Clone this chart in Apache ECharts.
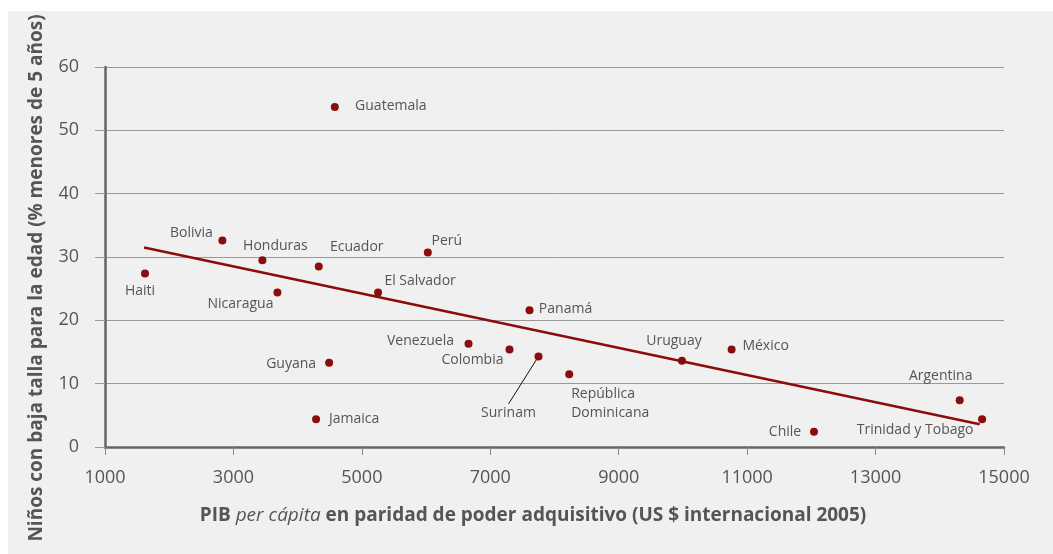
<!DOCTYPE html>
<html>
<head>
<meta charset="utf-8">
<script src="https://cdn.jsdelivr.net/npm/echarts@6/dist/echarts.min.js"></script>
<style>
  html, body { margin: 0; padding: 0; background: #fff; }
  .panel { position: absolute; left: 8px; top: 11px; width: 1045px; height: 543px; background: #f0f0f0; }
  #chart { position: absolute; left: 0; top: 0; width: 1053px; height: 554px; }
</style>
</head>
<body>
<div class="panel"></div>
<div id="chart"></div>
<script>
// datos
const countries = ['Haiti', 'Bolivia', 'Honduras', 'Nicaragua', 'Ecuador', 'Guatemala', 'Guyana', 'Jamaica',
  'El Salvador', 'Perú', 'Venezuela', 'Colombia', 'Surinam', 'Panamá', 'República\nDominicana',
  'Uruguay', 'México', 'Chile', 'Argentina', 'Trinidad y Tobago']
const gdp = [1623, 2828, 3451, 3685, 4329, 4579, 4490, 4287,
  5253, 6027, 6661, 7299, 7751, 7611, 8229,
  9985, 10758, 12041, 14310, 14659]
const stunting = [27.4, 32.6, 29.5, 24.4, 28.5, 53.7, 13.3, 4.4,
  24.4, 30.7, 16.3, 15.4, 14.3, 21.6, 11.5,
  13.6, 15.4, 2.4, 7.4, 4.4]
// línea de tendencia (extremos)
const trendX = [1608, 14622]
const trendY = [31.5, 3.6]
const xTicks = [1000, 3000, 5000, 7000, 9000, 11000, 13000, 15000]
const yTicks = [0, 10, 20, 30, 40, 50, 60]

// desplazamiento de cada etiqueta respecto al punto (px)
const labelOffsets = {
  'Haiti': [-5, 18],
  'Bolivia': [-31, -8],
  'Honduras': [13, -14],
  'Nicaragua': [-37, 12],
  'Ecuador': [38, -19],
  'Guatemala': [56, -1],
  'Guyana': [-38, 1],
  'Jamaica': [38, 0],
  'El Salvador': [42, -11],
  'Perú': [19, -12],
  'Venezuela': [-48, -3],
  'Colombia': [-37, 11],
  'Surinam': [-30, 57],
  'Panamá': [36, -1],
  'República\nDominicana': [2, 29],
  'Uruguay': [-8, -20],
  'México': [34, -3],
  'Chile': [-29, 0],
  'Argentina': [-19, -24],
  'Trinidad y Tobago': [-67, 11]
}

const red = '#8b0c0c'
const textColor = '#555'
const font = '"Open Sans", sans-serif'

let points = countries.map((name, i) => {
  let item = {
    name: name,
    value: [gdp[i], stunting[i]],
    label: {
      offset: labelOffsets[name],
      align: name.indexOf('\n') > -1 ? 'left' : 'center'
    }
  }
  if (name === 'Surinam') {
    item.labelLine = { show: true, lineStyle: { color: '#111', width: 1 } }
  }
  return item
})

let chart = echarts.init(document.getElementById('chart'))
let option = {
  animation: false,
  textStyle: { fontFamily: font },
  grid: {
    left: 105,
    right: 49,
    top: 67,
    bottom: 107
  },
  xAxis: {
    type: 'value',
    min: xTicks[0],
    max: xTicks[xTicks.length - 1],
    interval: xTicks[1] - xTicks[0],
    splitLine: { show: false },
    axisLine: { lineStyle: { color: '#666', width: 2.5 } },
    axisTick: { show: true, length: 8, lineStyle: { color: '#888', width: 1 } },
    axisLabel: {
      color: textColor,
      fontSize: 18,
      margin: 22,
      fontFamily: font,
      formatter: (v) => String(v) // sin separador de miles
    }
  },
  yAxis: {
    type: 'value',
    min: yTicks[0],
    max: yTicks[yTicks.length - 1],
    interval: yTicks[1] - yTicks[0],
    axisLine: { show: true, lineStyle: { color: '#666', width: 2.5 } },
    axisTick: { show: true, length: 10, lineStyle: { color: '#999', width: 1 } },
    splitLine: { lineStyle: { color: '#999', width: 1 } },
    axisLabel: { color: textColor, fontSize: 18, margin: 26, fontFamily: font }
  },
  // títulos de los ejes
  graphic: [
    {
      type: 'text',
      x: 37,
      y: 278,
      rotation: Math.PI / 2,
      style: {
        text: 'Niños con baja talla para la edad (% menores de 5 años)',
        fill: textColor,
        font: 'bold 19px ' + font,
        align: 'center',
        verticalAlign: 'middle'
      }
    },
    {
      type: 'text',
      x: 533,
      y: 516,
      style: {
        text: '{b|PIB }{i|per cápita}{b| en paridad de poder adquisitivo (US $ internacional 2005)}',
        align: 'center',
        verticalAlign: 'middle',
        rich: {
          b: { fill: textColor, fontWeight: 'bold', fontSize: 19, fontFamily: font },
          i: { fill: textColor, fontStyle: 'italic', fontSize: 19, fontFamily: font }
        }
      }
    }
  ],
  series: [
    {
      type: 'line',
      data: trendX.map((x, i) => [x, trendY[i]]),
      showSymbol: false,
      lineStyle: { color: red, width: 2.5 },
      z: 2
    },
    {
      type: 'scatter',
      data: points,
      symbolSize: 8,
      itemStyle: { color: red, opacity: 1 },
      label: {
        show: true,
        position: 'inside',
        formatter: '{b}',
        color: textColor,
        fontSize: 14,
        lineHeight: 19,
        verticalAlign: 'middle',
        fontFamily: font
      },
      z: 3
    }
  ]
}
chart.setOption(option)
</script>
</body>
</html>
